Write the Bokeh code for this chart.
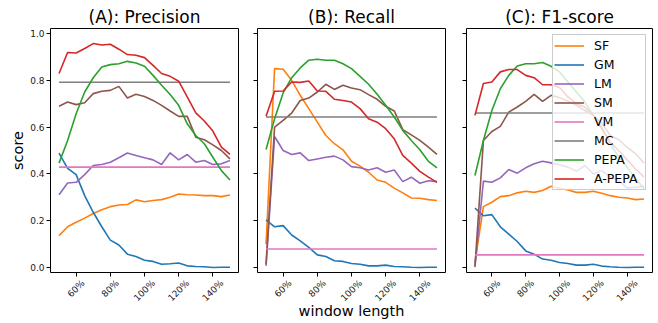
import math
from bokeh.plotting import figure
from bokeh.layouts import row
from bokeh.models import (FixedTicker, PrintfTickFormatter, Legend, LegendItem,
                          LinearAxis, CustomJSTickFormatter)
from bokeh.embed import file_html
from bokeh.resources import INLINE

window = [50, 55, 60, 65, 70, 75, 80, 85, 90, 95, 100, 105, 110, 115, 120, 125, 130, 135, 140, 145, 150]
methods = ["SF", "GM", "LM", "SM", "VM", "MC", "PEPA", "A-PEPA"]
colors = ["#ff7f0e", "#1f77b4", "#9467bd", "#8c564b", "#e377c2", "#7f7f7f", "#2ca02c", "#d62728"]
titles = ["(A): Precision", "(B): Recall", "(C): F1-score"]
y_ticks = [0.0, 0.2, 0.4, 0.6, 0.8, 1.0]
x_ticks = [60, 80, 100, 120, 140]
x_tick_labels = ["60%", "80%", "100%", "120%", "140%"]

# (A) Precision
prec_SF = [0.136, 0.174, 0.193, 0.211, 0.231, 0.247, 0.260, 0.267, 0.269, 0.289, 0.281, 0.286, 0.290, 0.300, 0.314, 0.311, 0.310, 0.307, 0.307, 0.303, 0.310]
prec_GM = [0.489, 0.424, 0.397, 0.307, 0.236, 0.174, 0.117, 0.096, 0.057, 0.047, 0.031, 0.026, 0.014, 0.016, 0.019, 0.007, 0.004, 0.003, 0.000, 0.001, 0.001]
prec_LM = [0.311, 0.361, 0.364, 0.397, 0.436, 0.440, 0.450, 0.469, 0.489, 0.479, 0.469, 0.460, 0.440, 0.490, 0.460, 0.483, 0.450, 0.457, 0.440, 0.443, 0.457]
prec_SM = [0.689, 0.707, 0.696, 0.704, 0.743, 0.753, 0.757, 0.774, 0.724, 0.740, 0.731, 0.714, 0.693, 0.669, 0.646, 0.646, 0.557, 0.546, 0.524, 0.500, 0.464]
prec_VM = [0.429] * 21
prec_MC = [0.792] * 21
prec_PEPA = [0.446, 0.543, 0.657, 0.750, 0.811, 0.857, 0.867, 0.871, 0.881, 0.874, 0.860, 0.821, 0.779, 0.739, 0.693, 0.614, 0.564, 0.529, 0.471, 0.414, 0.374]
prec_APEPA = [0.829, 0.919, 0.917, 0.936, 0.957, 0.951, 0.954, 0.933, 0.910, 0.907, 0.897, 0.864, 0.829, 0.817, 0.796, 0.729, 0.661, 0.626, 0.583, 0.514, 0.483]

# (B) Recall
rec_SF = [0.100, 0.850, 0.847, 0.800, 0.736, 0.679, 0.621, 0.564, 0.529, 0.503, 0.454, 0.433, 0.407, 0.374, 0.364, 0.339, 0.319, 0.297, 0.296, 0.290, 0.286]
rec_GM = [0.203, 0.174, 0.179, 0.139, 0.114, 0.086, 0.054, 0.047, 0.029, 0.026, 0.017, 0.014, 0.007, 0.007, 0.010, 0.004, 0.003, 0.001, 0.000, 0.001, 0.001]
rec_LM = [0.007, 0.560, 0.500, 0.483, 0.490, 0.457, 0.464, 0.471, 0.476, 0.460, 0.431, 0.426, 0.417, 0.426, 0.407, 0.417, 0.367, 0.386, 0.360, 0.371, 0.367]
rec_SM = [0.014, 0.600, 0.629, 0.660, 0.714, 0.724, 0.750, 0.783, 0.761, 0.779, 0.767, 0.760, 0.739, 0.719, 0.689, 0.669, 0.589, 0.567, 0.543, 0.514, 0.483]
rec_VM = [0.079] * 21
rec_MC = [0.643] * 21
rec_PEPA = [0.504, 0.636, 0.746, 0.811, 0.853, 0.886, 0.890, 0.886, 0.886, 0.871, 0.850, 0.817, 0.783, 0.740, 0.693, 0.643, 0.586, 0.543, 0.503, 0.454, 0.426]
rec_APEPA = [0.646, 0.753, 0.754, 0.793, 0.791, 0.797, 0.754, 0.753, 0.719, 0.714, 0.707, 0.679, 0.636, 0.621, 0.593, 0.550, 0.479, 0.446, 0.411, 0.386, 0.364]

# (C) F1-score
f1_SF = [0.021, 0.260, 0.279, 0.303, 0.307, 0.319, 0.326, 0.321, 0.329, 0.347, 0.339, 0.331, 0.321, 0.321, 0.326, 0.317, 0.307, 0.300, 0.297, 0.290, 0.293]
f1_GM = [0.254, 0.221, 0.226, 0.174, 0.143, 0.111, 0.071, 0.057, 0.036, 0.031, 0.021, 0.017, 0.010, 0.010, 0.014, 0.006, 0.003, 0.001, 0.000, 0.001, 0.001]
f1_LM = [0.003, 0.369, 0.364, 0.383, 0.419, 0.403, 0.426, 0.443, 0.454, 0.447, 0.439, 0.429, 0.411, 0.436, 0.400, 0.414, 0.386, 0.371, 0.340, 0.343, 0.347]
f1_SM = [0.003, 0.543, 0.581, 0.603, 0.664, 0.686, 0.710, 0.740, 0.710, 0.736, 0.726, 0.711, 0.693, 0.671, 0.650, 0.617, 0.564, 0.546, 0.514, 0.486, 0.446]
f1_VM = [0.054] * 21
f1_MC = [0.660] * 21
f1_PEPA = [0.393, 0.543, 0.671, 0.764, 0.821, 0.861, 0.871, 0.871, 0.876, 0.860, 0.836, 0.793, 0.750, 0.707, 0.650, 0.600, 0.529, 0.471, 0.429, 0.379, 0.336]
f1_APEPA = [0.650, 0.786, 0.793, 0.836, 0.846, 0.846, 0.821, 0.811, 0.781, 0.781, 0.769, 0.729, 0.700, 0.686, 0.650, 0.593, 0.536, 0.500, 0.460, 0.421, 0.386]

panels = [
    [prec_SF, prec_GM, prec_LM, prec_SM, prec_VM, prec_MC, prec_PEPA, prec_APEPA],
    [rec_SF, rec_GM, rec_LM, rec_SM, rec_VM, rec_MC, rec_PEPA, rec_APEPA],
    [f1_SF, f1_GM, f1_LM, f1_SM, f1_VM, f1_MC, f1_PEPA, f1_APEPA],
]

FONT = "DejaVu Sans"
TICK_FS = 9
X0, X1 = 45, 155
Y0, Y1 = -0.0214, 1.0214
FRAME_H = 244
borders = [(50, 10), (9, 11), (10, 6)]
figs = []
for i, (title, series) in enumerate(zip(titles, panels)):
    left, right = borders[i]
    fw = 188 if i < 2 else 186
    p = figure(frame_width=fw, frame_height=FRAME_H,
               x_range=(X0, X1), y_range=(Y0, Y1),
               output_backend="svg", toolbar_location=None,
               min_border_left=left, min_border_right=right,
               min_border_top=28, min_border_bottom=51,
               background_fill_color="white", border_fill_color="white")
    p.title.text = title
    p.title.text_font = FONT
    p.title.text_font_size = "17px"
    p.title.text_font_style = "normal"
    p.title.text_color = "black"
    p.title.align = "center"
    p.title.standoff = 4
    p.grid.visible = False
    p.outline_line_color = "black"
    p.outline_line_width = 1
    p.outline_line_alpha = 1

    renderers = []
    for name, col, ys in zip(methods, colors, series):
        r = p.line(window, ys, line_color=col, line_width=1.6)
        renderers.append((name, r))

    # second (label-only) x axis so that rotated labels are centred under ticks
    units_per_px = (X1 - X0) / fw
    shifted = []
    for t, lab in zip(x_ticks, x_tick_labels):
        w = TICK_FS * (0.636 * (len(lab) - 1) + 0.95)
        shifted.append(t + (w / 2) * 0.7071 * units_per_px)
    lab_axis = LinearAxis(ticker=FixedTicker(ticks=shifted),
                          formatter=CustomJSTickFormatter(args=dict(labels=x_tick_labels),
                                                          code="return labels[index];"))
    p.add_layout(lab_axis, "below")

    for ax in (p.xaxis[0], p.yaxis[0], lab_axis):
        ax.axis_line_color = None
        ax.major_tick_out = 4
        ax.major_tick_in = 0
        ax.minor_tick_out = 0
        ax.minor_tick_in = 0
        ax.major_tick_line_color = "black"
        ax.major_label_text_font = FONT
        ax.major_label_text_font_size = f"{TICK_FS}px"
        ax.major_label_text_color = "#1a1a1a"
        ax.axis_label_text_font = FONT
        ax.axis_label_text_font_size = "14.5px"
        ax.axis_label_text_font_style = "normal"
        ax.axis_label_text_color = "black"

    p.xaxis[0].ticker = FixedTicker(ticks=x_ticks)
    p.xaxis[0].major_label_overrides = {t: "" for t in x_ticks}
    p.xaxis[0].major_label_text_font_size = "0px"
    p.xaxis[0].major_label_standoff = 0
    lab_axis.major_tick_out = 0
    lab_axis.major_tick_line_color = None
    lab_axis.major_label_orientation = math.pi / 4
    lab_axis.major_label_standoff = 5

    p.yaxis.ticker = FixedTicker(ticks=y_ticks)
    if i == 0:
        p.yaxis.formatter = PrintfTickFormatter(format="%.1f")
        p.yaxis.axis_label = "score"
        p.yaxis.major_label_standoff = 2
        p.yaxis.axis_label_standoff = 1
    else:
        p.yaxis.major_label_overrides = {t: "" for t in y_ticks}
        p.yaxis.major_label_text_font_size = "0px"
        p.yaxis.major_label_standoff = 0
    if i == 1:
        lab_axis.axis_label = "window length"
        lab_axis.axis_label_standoff = -7
    if i == 2:
        legend = Legend(items=[LegendItem(label=n, renderers=[r]) for n, r in renderers],
                        location="top_right")
        legend.margin = 6
        legend.padding = 1
        legend.spacing = 0
        legend.glyph_width = 30
        legend.glyph_height = 19
        legend.label_height = 19
        legend.label_width = 50
        legend.label_standoff = 10
        legend.label_text_font = FONT
        legend.label_text_font_size = "12.5px"
        legend.label_text_color = "black"
        legend.background_fill_alpha = 0.8
        legend.border_line_color = "#cccccc"
        legend.border_line_alpha = 1
        p.add_layout(legend)
    figs.append(p)

layout = row(*figs, spacing=0)
open("out.html", "w").write(file_html(layout, INLINE))
